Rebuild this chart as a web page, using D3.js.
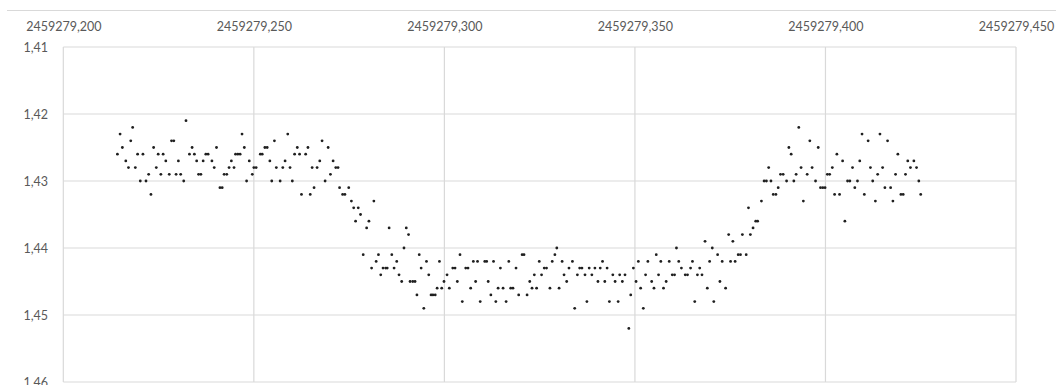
<!DOCTYPE html>
<html>
<head>
<meta charset="utf-8">
<script src="https://cdn.jsdelivr.net/npm/d3@7/dist/d3.min.js"></script>
<style>
  html, body { margin: 0; padding: 0; background: #ffffff; }
  svg { display: block; }
  .tick-label { font-family: Lato, "Open Sans", sans-serif; font-size: 12.5px; fill: #595959; }
</style>
</head>
<body>
<svg id="chart" width="1056" height="385"></svg>
<script>
// Observation day (Julian Date, integer part) and fractional part of each exposure
const JD_DAY = 2459279;
const jdFraction = [
  0.2142, 0.2149, 0.2155, 0.2164, 0.2171, 0.2177, 0.2182, 0.2189, 0.2195, 0.2202,
  0.2209, 0.2217, 0.2224, 0.2230, 0.2237, 0.2244, 0.2249, 0.2256, 0.2262, 0.2269,
  0.2278, 0.2284, 0.2290, 0.2296, 0.2302, 0.2308, 0.2316, 0.2322, 0.2331, 0.2338,
  0.2344, 0.2350, 0.2355, 0.2361, 0.2367, 0.2374, 0.2380, 0.2390, 0.2396, 0.2402,
  0.2411, 0.2417, 0.2422, 0.2429, 0.2435, 0.2441, 0.2448, 0.2452, 0.2458, 0.2464,
  0.2469, 0.2475, 0.2481, 0.2488, 0.2496, 0.2500, 0.2506, 0.2517, 0.2522, 0.2529,
  0.2535, 0.2542, 0.2547, 0.2554, 0.2559, 0.2569, 0.2576, 0.2582, 0.2589, 0.2595,
  0.2601, 0.2607, 0.2614, 0.2620, 0.2625, 0.2636, 0.2642, 0.2648, 0.2653, 0.2658,
  0.2666, 0.2673, 0.2679, 0.2687, 0.2695, 0.2701, 0.2708, 0.2715, 0.2721, 0.2725,
  0.2733, 0.2739, 0.2749, 0.2756, 0.2762, 0.2767, 0.2774, 0.2780, 0.2787, 0.2796,
  0.2802, 0.2809, 0.2815, 0.2821, 0.2827, 0.2833, 0.2839, 0.2846, 0.2850, 0.2855,
  0.2862, 0.2868, 0.2875, 0.2881, 0.2888, 0.2894, 0.2900, 0.2906, 0.2910, 0.2917,
  0.2923, 0.2928, 0.2934, 0.2939, 0.2946, 0.2953, 0.2959, 0.2965, 0.2970, 0.2976,
  0.2981, 0.2987, 0.2993, 0.2999, 0.3007, 0.3013, 0.3022, 0.3028, 0.3034, 0.3041,
  0.3047, 0.3056, 0.3062, 0.3069, 0.3076, 0.3082, 0.3087, 0.3094, 0.3106, 0.3111,
  0.3115, 0.3122, 0.3129, 0.3135, 0.3141, 0.3147, 0.3154, 0.3162, 0.3169, 0.3174,
  0.3180, 0.3188, 0.3195, 0.3204, 0.3209, 0.3217, 0.3224, 0.3230, 0.3236, 0.3242,
  0.3249, 0.3255, 0.3262, 0.3268, 0.3277, 0.3283, 0.3290, 0.3295, 0.3301, 0.3309,
  0.3314, 0.3321, 0.3327, 0.3336, 0.3342, 0.3349, 0.3355, 0.3361, 0.3369, 0.3374,
  0.3380, 0.3387, 0.3395, 0.3403, 0.3409, 0.3415, 0.3421, 0.3427, 0.3433, 0.3442,
  0.3448, 0.3456, 0.3460, 0.3467, 0.3474, 0.3484, 0.3489, 0.3496, 0.3503, 0.3509,
  0.3515, 0.3522, 0.3528, 0.3534, 0.3544, 0.3550, 0.3556, 0.3562, 0.3568, 0.3575,
  0.3582, 0.3590, 0.3598, 0.3604, 0.3609, 0.3615, 0.3622, 0.3632, 0.3638, 0.3646,
  0.3651, 0.3657, 0.3664, 0.3670, 0.3676, 0.3684, 0.3690, 0.3696, 0.3703, 0.3707,
  0.3717, 0.3723, 0.3729, 0.3738, 0.3746, 0.3751, 0.3757, 0.3763, 0.3771, 0.3777,
  0.3782, 0.3792, 0.3798, 0.3803, 0.3810, 0.3817, 0.3822, 0.3832, 0.3839, 0.3845,
  0.3851, 0.3857, 0.3863, 0.3870, 0.3876, 0.3882, 0.3889, 0.3898, 0.3904, 0.3910,
  0.3917, 0.3923, 0.3930, 0.3936, 0.3942, 0.3952, 0.3959, 0.3965, 0.3974, 0.3981,
  0.3987, 0.3993, 0.3999, 0.4005, 0.4011, 0.4018, 0.4024, 0.4030, 0.4037, 0.4045,
  0.4051, 0.4058, 0.4064, 0.4071, 0.4077, 0.4084, 0.4090, 0.4096, 0.4102, 0.4112,
  0.4118, 0.4124, 0.4131, 0.4137, 0.4143, 0.4150, 0.4156, 0.4163, 0.4171, 0.4177,
  0.4184, 0.4190, 0.4198, 0.4204, 0.4210, 0.4216, 0.4223, 0.4232, 0.4239, 0.4245,
  0.4250
];

// Measured magnitude for each exposure
const magnitude = [
  1.426, 1.423, 1.425, 1.427, 1.428, 1.424, 1.422, 1.428, 1.426, 1.430,
  1.426, 1.430, 1.429, 1.432, 1.425, 1.428, 1.426, 1.429, 1.426, 1.427,
  1.429, 1.424, 1.424, 1.429, 1.427, 1.429, 1.430, 1.421, 1.426, 1.425,
  1.426, 1.427, 1.429, 1.429, 1.427, 1.426, 1.426, 1.427, 1.428, 1.425,
  1.431, 1.431, 1.429, 1.429, 1.428, 1.427, 1.428, 1.426, 1.426, 1.426,
  1.423, 1.425, 1.430, 1.427, 1.429, 1.428, 1.428, 1.426, 1.426, 1.425,
  1.425, 1.427, 1.430, 1.424, 1.428, 1.430, 1.428, 1.427, 1.423, 1.428,
  1.430, 1.426, 1.425, 1.426, 1.432, 1.426, 1.425, 1.432, 1.428, 1.431,
  1.428, 1.427, 1.424, 1.430, 1.425, 1.429, 1.427, 1.428, 1.428, 1.431,
  1.432, 1.432, 1.431, 1.433, 1.434, 1.436, 1.434, 1.435, 1.441, 1.437,
  1.436, 1.443, 1.433, 1.442, 1.441, 1.444, 1.443, 1.443, 1.443, 1.437,
  1.441, 1.443, 1.442, 1.444, 1.445, 1.440, 1.437, 1.438, 1.445, 1.445,
  1.445, 1.447, 1.441, 1.443, 1.449, 1.442, 1.444, 1.447, 1.447, 1.447,
  1.446, 1.442, 1.446, 1.445, 1.444, 1.446, 1.443, 1.443, 1.445, 1.441,
  1.448, 1.443, 1.443, 1.446, 1.442, 1.445, 1.442, 1.448, 1.442, 1.442,
  1.445, 1.447, 1.442, 1.448, 1.446, 1.443, 1.446, 1.448, 1.442, 1.446,
  1.446, 1.443, 1.447, 1.441, 1.441, 1.447, 1.445, 1.446, 1.444, 1.446,
  1.442, 1.444, 1.443, 1.443, 1.446, 1.442, 1.441, 1.440, 1.446, 1.442,
  1.444, 1.445, 1.443, 1.442, 1.449, 1.444, 1.443, 1.443, 1.444, 1.448,
  1.443, 1.444, 1.443, 1.445, 1.443, 1.442, 1.445, 1.443, 1.448, 1.444,
  1.445, 1.448, 1.444, 1.445, 1.444, 1.452, 1.447, 1.443, 1.445, 1.442,
  1.446, 1.449, 1.444, 1.442, 1.445, 1.446, 1.441, 1.444, 1.442, 1.446,
  1.445, 1.442, 1.444, 1.444, 1.440, 1.442, 1.443, 1.444, 1.444, 1.443,
  1.442, 1.448, 1.444, 1.443, 1.444, 1.439, 1.446, 1.442, 1.440, 1.448,
  1.441, 1.445, 1.442, 1.446, 1.438, 1.442, 1.439, 1.442, 1.441, 1.441,
  1.438, 1.441, 1.434, 1.438, 1.437, 1.436, 1.436, 1.433, 1.430, 1.430,
  1.428, 1.430, 1.432, 1.432, 1.431, 1.429, 1.429, 1.430, 1.425, 1.426,
  1.430, 1.429, 1.422, 1.428, 1.433, 1.429, 1.424, 1.428, 1.430, 1.425,
  1.431, 1.431, 1.431, 1.429, 1.429, 1.428, 1.432, 1.426, 1.432, 1.427,
  1.436, 1.430, 1.430, 1.428, 1.431, 1.430, 1.427, 1.423, 1.432, 1.424,
  1.428, 1.430, 1.433, 1.429, 1.423, 1.428, 1.431, 1.424, 1.431, 1.433,
  1.429, 1.426, 1.432, 1.432, 1.429, 1.427, 1.428, 1.427, 1.428, 1.430,
  1.432
];

// Axis ranges and tick values
const xTicks = [2459279.20, 2459279.25, 2459279.30, 2459279.35, 2459279.40, 2459279.45];
const yTicks = [1.41, 1.42, 1.43, 1.44, 1.45, 1.46];

const points = jdFraction.map((f, i) => ({ jd: JD_DAY + f, mag: magnitude[i] }));

const svg = d3.select("#chart");
const W = 1056, H = 385;
const plot = { left: 63.3, right: 1016, top: 47, bottom: 382 };

// Decimal comma, no thousands grouping
const locale = d3.formatLocale({ decimal: ",", thousands: "", grouping: [3], currency: ["", ""] });
const fmtX = locale.format(".3f");
const fmtY = locale.format(".2f");

const x = d3.scaleLinear().domain([xTicks[0], xTicks[xTicks.length - 1]]).range([plot.left, plot.right]);
// Magnitude axis runs downward: brighter values at the top
const y = d3.scaleLinear().domain([yTicks[0], yTicks[yTicks.length - 1]]).range([plot.top, plot.bottom]);

// Outer chart frame line
svg.append("line")
  .attr("x1", 7).attr("x2", W).attr("y1", 10.5).attr("y2", 10.5)
  .attr("stroke", "#d9d9d9").attr("stroke-width", 1);

// Gridlines
const grid = svg.append("g").attr("stroke", "#d9d9d9").attr("stroke-width", 1.2);
grid.selectAll(".gx").data(xTicks).join("line")
  .attr("x1", d => x(d)).attr("x2", d => x(d))
  .attr("y1", plot.top).attr("y2", plot.bottom);
grid.selectAll(".gy").data(yTicks).join("line")
  .attr("x1", plot.left).attr("x2", plot.right)
  .attr("y1", d => y(d)).attr("y2", d => y(d));

// X axis labels along the top
const xAxis = d3.axisTop(x).tickValues(xTicks).tickFormat(fmtX).tickSize(0).tickPadding(0);
const gx = svg.append("g").attr("transform", "translate(0,31)").call(xAxis);
gx.select(".domain").remove();
gx.selectAll("text").attr("class", "tick-label").attr("fill", null).attr("dy", 0);

// Y axis labels on the left
const yAxis = d3.axisLeft(y).tickValues(yTicks).tickFormat(fmtY).tickSize(0).tickPadding(0);
const gy = svg.append("g").attr("transform", "translate(48,0)").call(yAxis);
gy.select(".domain").remove();
gy.selectAll("text").attr("class", "tick-label").attr("fill", null).attr("dy", "0.32em");

// Observations
svg.append("g").selectAll("circle").data(points).join("circle")
  .attr("cx", d => x(d.jd))
  .attr("cy", d => y(d.mag))
  .attr("r", 1.4)
  .attr("fill", "#1f1f1f");
</script>
</body>
</html>
